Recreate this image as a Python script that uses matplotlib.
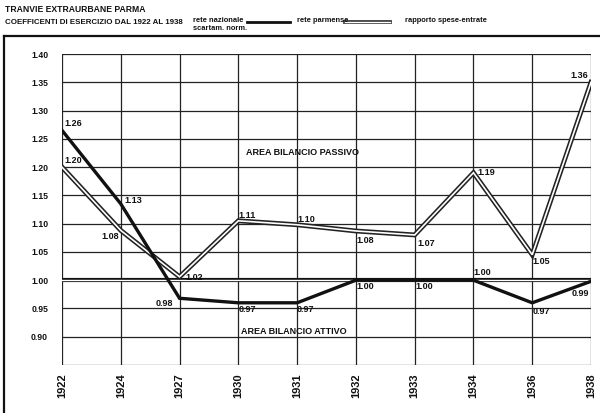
import numpy as np
import matplotlib.pyplot as plt
from matplotlib.lines import Line2D

# data
years = ["1922", "1924", "1927", "1930", "1931", "1932", "1933", "1934", "1936", "1938"]
rete_nazionale = [1.265, 1.135, 0.968, 0.96, 0.96, 1.0, 1.0, 1.0, 0.96, 0.998]
rete_parmense = [1.20, 1.088, 1.006, 1.105, 1.098, 1.087, 1.08, 1.19, 1.045, 1.35]
labels_nazionale = ["1.26", "1.13", "0.98", "0.97", "0.97", "1.00", "1.00", "1.00", "0.97", "0.99"]
labels_parmense = ["1.20", "1.08", "1.02", "1.11", "1.10", "1.08", "1.07", "1.19", "1.05", "1.36"]
y_ticks = [0.90, 0.95, 1.00, 1.05, 1.10, 1.15, 1.20, 1.25, 1.30, 1.35, 1.40]

plt.rcParams["font.family"] = ["Liberation Sans", "DejaVu Sans"]
FONT = dict(fontweight="bold", color="#111111")

fig = plt.figure(figsize=(6.0, 4.13), dpi=100)
ax = fig.add_axes([62 / 600, 1 - 365 / 413, (591 - 62) / 600, (365 - 54) / 413])

x = np.arange(len(years))
ax.set_xlim(0, len(years) - 1)
ax.set_ylim(0.85, 1.40)

# grid
for xi in x:
    ax.axvline(xi, color="#222222", lw=0.9, zorder=1)
for yv in np.arange(0.85, 1.401, 0.05):
    ax.axhline(yv, color="#222222", lw=0.9, zorder=1)
ax.axhline(1.0, color="#111111", lw=3.0, zorder=1)
ax.axhline(1.0, color="white", lw=1.0, zorder=1)

for s in ax.spines.values():
    s.set_visible(False)
ax.tick_params(length=0)
ax.set_xticks([])
ax.set_yticks(y_ticks)
ax.set_yticklabels([f"{v:.2f}" for v in y_ticks], fontsize=6.2, **FONT)
ax.tick_params(axis="y", pad=10)

# year labels below, rotated
for xi, yr in zip(x, years):
    ax.annotate(yr, xy=(xi, 0.85), xytext=(0, -8), textcoords="offset pixels",
                rotation=90, ha="center", va="top", fontsize=8, **FONT)

# lines
ax.plot(x, rete_nazionale, color="#111111", lw=2.4, solid_joinstyle="miter", zorder=4)
ax.plot(x, rete_parmense, color="#222222", lw=3.5, solid_joinstyle="miter", zorder=3)
ax.plot(x, rete_parmense, color="white", lw=1.2, solid_joinstyle="miter", zorder=3)

# value labels: (dx, dy, ha, va) in pixels
pos_naz = [(2, 2, "left", "bottom"), (4, 3, "left", "center"), (-6, -5, "right", "center"),
           (0, -2, "left", "top"), (0, -2, "left", "top"), (1, -2, "left", "top"),
           (1, -2, "left", "top"), (0, 3, "left", "bottom"), (0, -4, "left", "top"),
           (-2, -8, "right", "top")]
pos_par = [(2, 2, "left", "bottom"), (-2, -2, "right", "top"), (6, -1, "left", "center"),
           (0, 1, "left", "bottom"), (0, 1, "left", "bottom"), (1, -5, "left", "top"),
           (3, -4, "left", "top"), (4, 0, "left", "center"), (0, -2, "left", "top"),
           (-3, 2, "right", "bottom")]
for xi, v, lab, (dx, dy, ha, va) in zip(x, rete_nazionale, labels_nazionale, pos_naz):
    ax.annotate(lab, xy=(xi, v), xytext=(dx, dy), textcoords="offset pixels",
                ha=ha, va=va, fontsize=6.5, zorder=6, **FONT)
for xi, v, lab, (dx, dy, ha, va) in zip(x, rete_parmense, labels_parmense, pos_par):
    ax.annotate(lab, xy=(xi, v), xytext=(dx, dy), textcoords="offset pixels",
                ha=ha, va=va, fontsize=6.5, zorder=6, **FONT)

ax.text(4.1, 1.225, "AREA BILANCIO PASSIVO", ha="center", va="center", fontsize=6.5, **FONT)
ax.text(3.95, 0.902, "AREA BILANCIO ATTIVO", ha="center", va="bottom", fontsize=6.5, **FONT)

# header and legend
fig.text(5 / 600, 1 - 9 / 413, "TRANVIE EXTRAURBANE PARMA", ha="left", va="center", fontsize=6.2, **FONT)
fig.text(5 / 600, 1 - 22 / 413, "COEFFICENTI DI ESERCIZIO DAL 1922 AL 1938", ha="left", va="center", fontsize=5.7, **FONT)
fig.text(193 / 600, 1 - 21 / 413, "rete nazionale", ha="left", va="center", fontsize=5.4, **FONT)
fig.text(193 / 600, 1 - 28.5 / 413, "scartam. norm.", ha="left", va="center", fontsize=5.4, **FONT)
fig.text(297 / 600, 1 - 21 / 413, "rete parmense", ha="left", va="center", fontsize=5.4, **FONT)
fig.text(405 / 600, 1 - 21 / 413, "rapporto spese-entrate", ha="left", va="center", fontsize=5.4, **FONT)

ly = 1 - 22 / 413
fig.add_artist(Line2D([247 / 600, 290 / 600], [ly, ly], color="#111111", lw=2.0, transform=fig.transFigure))
fig.add_artist(Line2D([345 / 600, 390 / 600], [ly, ly], color="#444444", lw=2.8, transform=fig.transFigure))
fig.add_artist(Line2D([345 / 600, 390 / 600], [ly, ly], color="white", lw=0.9, transform=fig.transFigure))

# outer frame of the sheet
fy = 1 - 36 / 413
fig.add_artist(Line2D([4 / 600, 1.0], [fy, fy], color="#111111", lw=1.6, transform=fig.transFigure))
fig.add_artist(Line2D([4 / 600, 4 / 600], [0.0, fy], color="#111111", lw=1.6, transform=fig.transFigure))

fig.savefig("out.png", dpi=100, facecolor="white")
